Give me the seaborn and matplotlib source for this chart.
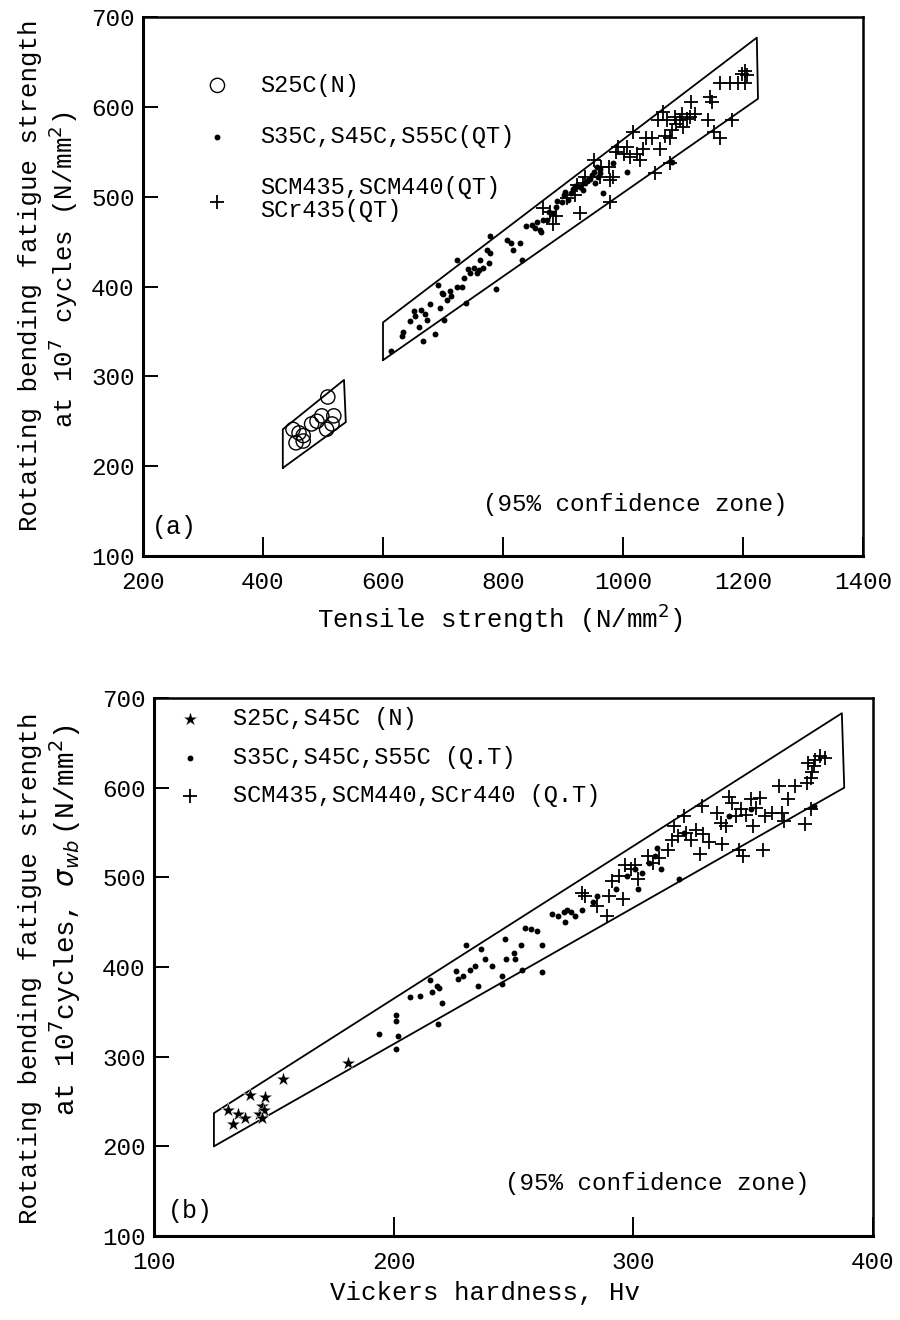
import numpy as np
import pandas as pd
import matplotlib
matplotlib.use("Agg")
import matplotlib.pyplot as plt
from matplotlib.markers import MarkerStyle
import seaborn as sns

# ---------------- Panel (a): tensile strength ----------------
s25c_ts = [508, 450, 455, 467, 481, 498, 518, 515, 506, 467, 460, 490]
s25c_fs = [277, 241, 226, 234, 247, 256, 256, 247, 241, 228, 237, 250]

qt_ts = [614, 631, 634, 667, 687, 653, 651, 664, 670, 678, 673, 695, 701, 692, 698,
         706, 712, 714, 723, 723, 731, 739, 742, 745, 751, 756, 762, 767, 776, 778,
         773, 778, 789, 831, 806, 814, 817, 828, 839, 848, 853, 856, 862, 867, 864,
         873, 876, 884, 889, 898, 901, 903, 909, 914, 917, 928, 934, 937, 942, 948,
         951, 956, 959, 953, 962, 967, 962, 984, 1006, 1081,
         645, 660, 700, 735, 760, 890, 920, 945]
qt_fs = [328, 345, 349, 339, 347, 367, 373, 374, 369, 380, 363, 376, 363, 402, 393,
         385, 395, 389, 400, 430, 400, 382, 419, 415, 421, 415, 430, 421, 426, 437,
         441, 456, 397, 430, 452, 448, 441, 448, 467, 469, 465, 472, 463, 474, 461,
         474, 483, 482, 489, 494, 502, 505, 496, 504, 509, 511, 507, 515, 518, 524,
         528, 533, 522, 515, 531, 504, 526, 537, 528, 539,
         362, 355, 392, 410, 418, 495, 512, 520]

scm_ts = [867, 878, 884, 889, 906, 920, 923, 928, 934, 937, 951, 962, 964, 976, 978,
          978, 984, 989, 992, 1001, 1006, 1012, 1017, 1023, 1028, 1034, 1039, 1048, 1053, 1059,
          1062, 1067, 1070, 1073, 1078, 1081, 1087, 1089, 1095, 1098, 1100, 1106, 1112, 1114, 1120,
          1142, 1145, 1148, 1151, 1162, 1162, 1178, 1181, 1192, 1198, 1203, 1206, 1203, 1078]
scm_fs = [487, 483, 470, 478, 498, 502, 513, 482, 515, 522, 541, 522, 533, 533, 518,
          494, 522, 550, 555, 548, 555, 544, 572, 548, 541, 553, 565, 565, 526, 585,
          553, 594, 568, 585, 565, 574, 589, 581, 585, 592, 577, 587, 589, 605, 592,
          585, 611, 605, 572, 565, 627, 627, 585, 627, 637, 640, 635, 627, 537]

# 95% confidence zones (polygon corners)
zone_a1_x = [433, 538, 535, 433, 433]
zone_a1_y = [198, 249, 296, 241, 198]
zone_a2_x = [600, 1225, 1223, 600, 600]
zone_a2_y = [318, 609, 677, 360, 318]

labels_a = ["S25C(N)", "S35C,S45C,S55C(QT)", "SCM435,SCM440(QT)\nSCr435(QT)"]
xticks_a = [200, 400, 600, 800, 1000, 1200, 1400]
yticks = [100, 200, 300, 400, 500, 600, 700]

# ---------------- Panel (b): Vickers hardness ----------------
n_hv = [131, 133, 135, 138, 140, 144, 145, 146, 146.5, 145, 154, 181]
n_fs = [241, 225, 236, 232, 257, 236, 245, 241, 255, 232, 275, 293]

qtb_hv = [194, 201, 201, 202, 201, 207, 211, 215, 216, 218, 219, 220, 218.5, 226, 227,
          229, 230, 232, 234, 235, 236.5, 238, 241, 245, 245, 246.5, 247, 250, 250.5, 253,
          253.5, 255, 257.5, 260, 262, 262, 266, 268.5, 271, 272.4, 274, 275.5, 271.6, 278.6, 283,
          285, 292.7, 297.4, 300.5, 302, 303.6, 306.7, 309, 310, 311.4, 319, 321, 340, 349, 375.5]
qtb_fs = [325, 346, 340, 323, 309, 366, 368, 385, 372, 379, 377, 360, 336, 396, 387,
          390, 424, 397, 401, 379, 420, 409, 401, 390, 381, 431, 409, 416, 409, 424,
          397, 444, 442, 440, 425, 394, 459, 457, 461, 464, 461, 457, 450, 464, 472,
          479, 487, 501, 509, 487, 505, 516, 524, 533, 509, 498, 550, 568, 576, 579]

scmb_hv = [278.6, 280, 285, 289, 291, 290, 294, 295.8, 296.6, 299, 300.5, 302, 306, 308, 310.6,
           314.5, 316, 317, 318.5, 321, 322, 324, 326, 328, 328.6, 329, 331.7, 335, 336.4, 337,
           338.8, 340, 341, 342.7, 344, 345, 345.8, 347, 349, 350, 351, 353, 354, 355, 358,
           360.6, 362, 363, 364.5, 367.6, 371.5, 372.3, 373, 374, 374, 375.5, 376, 378, 380, 374.7]
scmb_fs = [483, 479, 468, 457, 496, 479, 501, 476, 514, 509, 514, 498, 524, 516, 522,
           531, 542, 557, 546, 568, 550, 542, 553, 526, 579, 548, 539, 572, 561, 537,
           557, 590, 583, 568, 531, 576, 524, 570, 587, 557, 577, 589, 531, 568, 572,
           602, 572, 563, 587, 602, 559, 605, 628, 611, 576, 624, 631, 635, 633, 617]

zone_b_x = [125, 388, 387, 125, 125]
zone_b_y = [200, 600, 683, 237, 200]

labels_b = ["S25C,S45C (N)", "S35C,S45C,S55C (Q.T)", "SCM435,SCM440,SCr440 (Q.T)"]
xticks_b = [100, 200, 300, 400]

# ---------------- Style ----------------
sns.set_theme(style="ticks")
plt.rcParams['font.family'] = ['Liberation Mono', 'DejaVu Sans Mono', 'DejaVu Sans']
plt.rcParams['mathtext.fontset'] = 'dejavusans'
plt.rcParams['axes.edgecolor'] = 'black'
plt.rcParams['text.color'] = 'black'
plt.rcParams['xtick.color'] = 'black'
plt.rcParams['ytick.color'] = 'black'

W, H = 900, 1320
fig = plt.figure(figsize=(9, 13.2), dpi=100)
fig.patch.set_facecolor('white')
ax_a = fig.add_axes([143 / W, 1 - 556 / H, 720 / W, 539 / H])
ax_b = fig.add_axes([154 / W, 1 - 1236 / H, 719 / W, 538 / H])

open_circle = MarkerStyle('o', fillstyle='none')


def style_axes(ax, xticks, xlim):
    ax.set_xlim(*xlim)
    ax.set_ylim(100, 700)
    ax.set_xticks(xticks)
    ax.set_yticks(yticks)
    ax.set_xlabel("")
    ax.set_ylabel("")
    for side in ['left', 'bottom']:
        ax.spines[side].set_linewidth(2.2)
    for side in ['top', 'right']:
        ax.spines[side].set_linewidth(1.8)
    for sp in ax.spines.values():
        sp.set_visible(True)
        sp.set_color('black')
    ax.tick_params(axis='x', direction='in', length=14, width=1.4, pad=11, labelsize=17.5)
    ax.tick_params(axis='y', direction='in', length=11, width=1.4, pad=6, labelsize=17.5)
    ax.set_facecolor('white')


# ---- panel (a) ----
ax_a.plot(zone_a1_x, zone_a1_y, color='black', lw=1.3, zorder=2)
ax_a.plot(zone_a2_x, zone_a2_y, color='black', lw=1.3, zorder=2)
sns.scatterplot(x=s25c_ts, y=s25c_fs, ax=ax_a, marker=open_circle, color='black',
                s=105, linewidth=1.0, label=labels_a[0], zorder=3)
sns.scatterplot(x=qt_ts, y=qt_fs, ax=ax_a, marker='o', color='black', s=18,
                linewidth=0, label=labels_a[1], zorder=3)
sns.scatterplot(x=scm_ts, y=scm_fs, ax=ax_a, marker='+', color='black', s=95,
                linewidth=1.3, label=labels_a[2], zorder=3)
style_axes(ax_a, xticks_a, (200, 1400))
leg_a = ax_a.legend(loc='upper left', bbox_to_anchor=(0.087, 0.895), frameon=False,
                    borderpad=0, borderaxespad=0, handlelength=1.0, handletextpad=1.3,
                    labelspacing=1.2, fontsize=17, scatterpoints=1)
leg_a.get_texts()[2].set_linespacing(1.0)
ax_a.text(1021, 157, "(95% confidence zone)", ha='center', va='center', fontsize=17.5)
ax_a.text(252, 132, "(a)", ha='center', va='center', fontsize=18)

# ---- panel (b) ----
ax_b.plot(zone_b_x, zone_b_y, color='black', lw=1.3, zorder=2)
sns.scatterplot(x=n_hv, y=n_fs, ax=ax_b, marker='*', color='black', s=115,
                linewidth=0.3, label=labels_b[0], zorder=3)
sns.scatterplot(x=qtb_hv, y=qtb_fs, ax=ax_b, marker='o', color='black', s=18,
                linewidth=0, label=labels_b[1], zorder=3)
sns.scatterplot(x=scmb_hv, y=scmb_fs, ax=ax_b, marker='+', color='black', s=95,
                linewidth=1.3, label=labels_b[2], zorder=3)
style_axes(ax_b, xticks_b, (100, 400))
leg_b = ax_b.legend(loc='upper left', bbox_to_anchor=(0.034, 0.983), frameon=False,
                    borderpad=0, borderaxespad=0, handlelength=1.0, handletextpad=1.3,
                    labelspacing=0.66, fontsize=17, scatterpoints=1)
ax_b.text(310, 159, "(95% confidence zone)", ha='center', va='center', fontsize=17.5)
ax_b.text(115, 128, "(b)", ha='center', va='center', fontsize=18)

# ---- axis titles ----
fig.text(30 / W, 1 - 275 / H, "Rotating bending fatigue strength", rotation=90,
         ha='center', va='center', fontsize=18.5)
fig.text(63 / W, 1 - 270 / H, "at 10$^7$ cycles (N/mm$^2$)", rotation=90,
         ha='center', va='center', fontsize=18.5)
fig.text(500 / W, 1 - 618 / H, "Tensile strength (N/mm$^2$)", ha='center', va='center',
         fontsize=18.5)

fig.text(30 / W, 1 - 968 / H, "Rotating bending fatigue strength", rotation=90,
         ha='center', va='center', fontsize=18.5)
fig.text(65 / W, 1 - 920 / H, "at 10$^7$cycles, $\\sigma_{wb}\\,$(N/mm$^2$)", rotation=90,
         ha='center', va='center', fontsize=20)
fig.text(485 / W, 1 - 1293 / H, "Vickers hardness, Hv", ha='center', va='center',
         fontsize=18.5)

fig.savefig("out.png", dpi=100, facecolor='white')
